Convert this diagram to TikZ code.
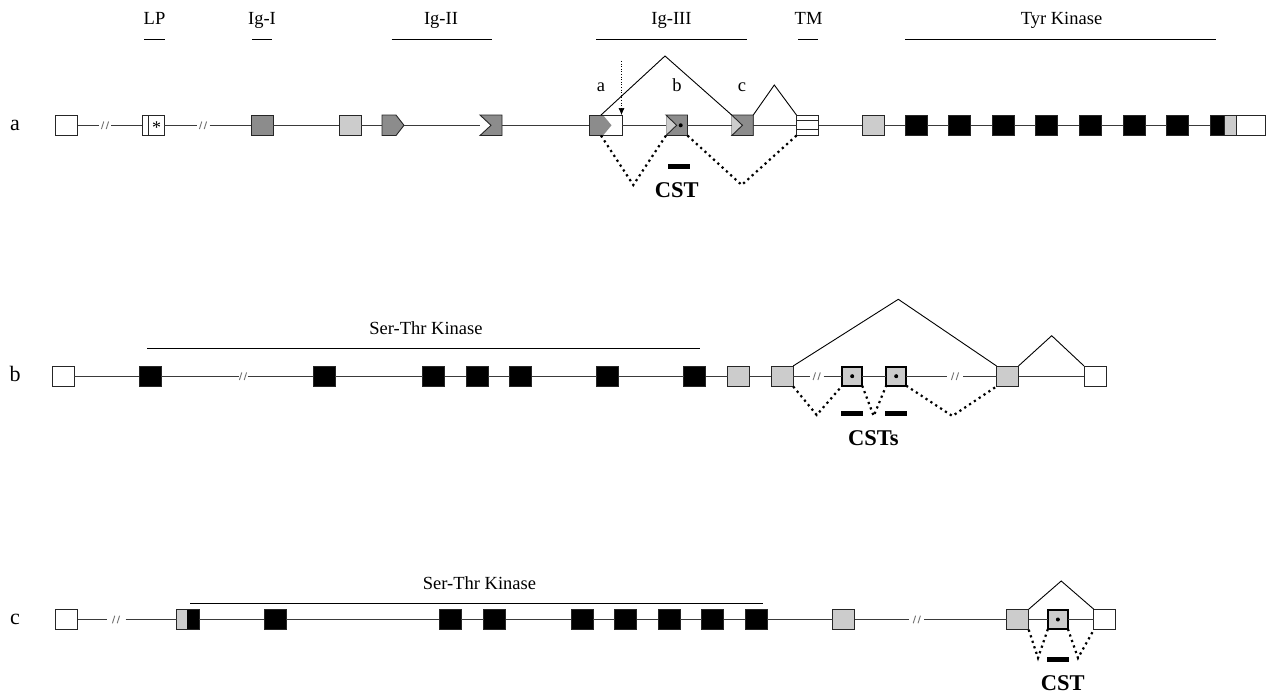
\documentclass[tikz,border=0pt]{standalone}
\usepackage{fontspec}
\setmainfont{Liberation Serif}
\usetikzlibrary{arrows.meta,calc}
\definecolor{dg}{HTML}{8C8C8C}
\definecolor{lg}{HTML}{CCCCCC}
\definecolor{ln}{HTML}{3A3A3A}
\newcommand{\brkmark}[4]{%
  \coordinate (#3l) at ({#1-#4},#2);
  \coordinate (#3r) at ({#1+#4},#2);
  \draw[brkst] ({#1-3.6},{#2+3.8}) -- ({#1-1.2},{#2-3.8}) ({#1+1.2},{#2+3.8}) -- ({#1+3.6},{#2-3.8});
}
\begin{document}
\begin{tikzpicture}[x=1pt,y=-1pt,
 exon/.style={draw=black!85, line width=0.9pt, minimum width=22pt, minimum height=20.5pt, inner sep=0pt, outer sep=0pt},
 wex/.style={exon, fill=white},
 lex/.style={exon, fill=lg},
 dex/.style={exon, fill=dg},
 bex/.style={exon, fill=black},
 cex/.style={exon, fill=lg, draw=black, line width=2.4pt, minimum width=20pt, minimum height=19pt},
 lbl/.style={font=\fontsize{18.5}{20}\selectfont, inner sep=0pt, anchor=base},
 rlbl/.style={font=\fontsize{22}{24}\selectfont, inner sep=0pt, anchor=base},
 cstlbl/.style={font=\fontsize{22.5}{24}\selectfont\bfseries, inner sep=0pt},
 dombar/.style={draw=black, line width=1pt},
 cstbar/.style={fill=black, inner sep=0pt, minimum width=21.7pt, minimum height=5pt},
 intron/.style={draw=ln, line width=1.1pt},
 splice/.style={draw=black, line width=0.9pt},
 alt/.style={draw=black, line width=2.2pt, dash pattern=on 2.2pt off 3.6pt},
 arr/.style={draw=black, line width=0.6pt, dash pattern=on 1pt off 1.6pt, -{Latex[length=7pt,width=6pt]}},
 brkst/.style={draw=black!55, line width=0.9pt},
 shp/.style={fill=dg, draw=black!85, line width=0.9pt}
]
\fill[white] (0,0) rectangle (1267,698);
\useasboundingbox (0,0) rectangle (1267,698);

% ---------------- domain labels (row a)
\node[lbl] (tLP) at (154.5,25) {LP};
\node[lbl] (tI1) at (262,25) {Ig-I};
\node[lbl] (tI2) at (441,25) {Ig-II};
\node[lbl] (tI3) at (671.5,25) {Ig-III};
\node[lbl] (tTM) at (808.6,25) {TM};
\node[lbl] (tTK) at (1061.5,25) {Tyr Kinase};
\draw[dombar] (144.3,39.3) -- (165,39.3);
\draw[dombar] (252.3,39.3) -- (272.3,39.3);
\draw[dombar] (391.7,39.3) -- (492.3,39.3);
\draw[dombar] (596,39.3) -- (747,39.3);
\draw[dombar] (798,39.3) -- (818.3,39.3);
\draw[dombar] (905,39.3) -- (1216,39.3);

% ---------------- row a
\node[rlbl] (ra) at (15,130.3) {a};
\node[wex] (a1) at (66.5,125.3) {};
\brkmark{105}{125.3}{ba1}{6}
\node[wex] (aLP) at (153.3,125.3) {};
\draw[black!85, line width=0.9pt] ([xshift=5.7pt]aLP.north west) -- ([xshift=5.7pt]aLP.south west);
\node[font=\fontsize{18}{18}\selectfont, inner sep=0pt, anchor=base] (ast) at (156.5,133.5) {*};
\brkmark{203}{125.3}{ba2}{6.5}
\node[dex] (aI1) at (262.3,125.3) {};
\node[lex] (aL1) at (350,125.3) {};
\node[exon, draw=none] (aP) at (393,125.3) {};
\draw[shp] (aP.north west) -- ([xshift=-8pt]aP.north east) -- (aP.east) -- ([xshift=-8pt]aP.south east) -- (aP.south west) -- cycle;
\node[exon, draw=none] (aN) at (491,125.3) {};
\draw[shp] (aN.north west) -- (aN.north east) -- (aN.south east) -- (aN.south west) -- ([xshift=11pt]aN.west) -- cycle;
\node[exon, draw=none, fill=white, minimum width=33pt] (aA) at (605.5,125.3) {};
\fill[dg] (aA.north west) -- ([xshift=14pt]aA.north west) -- ([xshift=22.5pt]aA.west) -- ([xshift=14pt]aA.south west) -- (aA.south west) -- cycle;
\draw[black!85, line width=0.9pt] (aA.north west) rectangle (aA.south east);
\node[exon, fill=lg, draw=black!35, line width=0.6pt, minimum width=21.5pt] (aB) at (676.7,125.3) {};
\draw[shp] (aB.north west) -- (aB.north east) -- (aB.south east) -- (aB.south west) -- ([xshift=10.7pt]aB.west) -- cycle;
\fill[black] ([xshift=4pt]aB.center) circle (2pt);
\node[exon, fill=lg, draw=black!35, line width=0.6pt, minimum width=21.5pt] (aC) at (742.5,125.3) {};
\draw[shp] (aC.north west) -- (aC.north east) -- (aC.south east) -- (aC.south west) -- ([xshift=10.7pt]aC.west) -- cycle;
\node[wex] (aTM) at (807.5,125.3) {};
\draw[black!85, line width=0.9pt] ($(aTM.north west)!0.26!(aTM.south west)$) -- ($(aTM.north east)!0.26!(aTM.south east)$);
\draw[black!85, line width=0.9pt] ($(aTM.north west)!0.72!(aTM.south west)$) -- ($(aTM.north east)!0.72!(aTM.south east)$);
\node[lex] (aL2) at (873,125.3) {};
\foreach \i/\x in {1/916,2/959.6,3/1003.2,4/1046.8,5/1090.4,6/1134,7/1177.6}
  \node[bex] (aK\i) at (\x,125.3) {};
\node[bex, minimum width=14pt] (aE1) at (1217,125.3) {};
\node[lex, minimum width=12pt] (aE2) at (1230,125.3) {};
\node[wex, minimum width=29pt] (aE3) at (1250.5,125.3) {};

\draw[intron] (a1.east) -- (ba1l) (ba1r) -- (aLP.west);
\draw[intron] (aLP.east) -- (ba2l) (ba2r) -- (aI1.west);
\foreach \p/\q in {aI1/aL1,aL1/aP,aP/aN,aN/aA,aA/aB,aB/aC,aC/aTM,aTM/aL2,aL2/aK1,aK1/aK2,aK2/aK3,aK3/aK4,aK4/aK5,aK5/aK6,aK6/aK7,aK7/aE1}
  \draw[intron] (\p.east) -- (\q.west);

\node[lbl] (la) at (601,91.7) {a};
\node[lbl] (lb) at (677,91.7) {b};
\node[lbl] (lc) at (742,91.7) {c};
\coordinate (arT) at (621.5,61);
\draw[arr] (arT) -- (arT |- aA.north);

\coordinate (apA1) at (665,56);
\draw[splice] ([xshift=12pt]aA.north west) -- (apA1) -- (aC.north west);
\coordinate (apA2) at (774.3,85);
\draw[splice] (aC.north east) -- (apA2) -- (aTM.north west);
\coordinate (vA1) at (633.3,185);
\draw[alt] ([xshift=12pt]aA.south west) -- (vA1) -- (aB.south west);
\coordinate (vA2) at (741.7,185);
\draw[alt] (aB.south east) -- (vA2) -- (aTM.south west);
\node[cstbar] (cbA) at (679.2,166.7) {};
\node[cstlbl] (cstA) at (676.7,189.7) {CST};

% ---------------- row b
\node[rlbl] (rb) at (15,381.2) {b};
\node[lbl] (stB) at (426,334) {Ser-Thr Kinase};
\draw[dombar] (147,348) -- (700,348);
\node[wex] (b1) at (63.2,376.2) {};
\node[bex] (bK1) at (150.2,376.2) {};
\brkmark{243}{376.2}{bb1}{4.5}
\foreach \i/\x in {2/324.2,3/433.8,4/477.1,5/520.8,6/607.6,7/694.8}
  \node[bex] (bK\i) at (\x,376.2) {};
\node[lex] (bL1) at (738.7,376.2) {};
\node[lex] (bL2) at (782.2,376.2) {};
\brkmark{816.7}{376.2}{bb2}{7}
\node[cex] (bC1) at (852.2,376.2) {};
\node[cex] (bC2) at (896.2,376.2) {};
\fill[black] (bC1.center) circle (2pt);
\fill[black] (bC2.center) circle (2pt);
\brkmark{955}{376.2}{bb3}{8.3}
\node[lex] (bL3) at (1007.5,376.2) {};
\node[wex] (bW2) at (1095,376.2) {};

\draw[intron] (b1.east) -- (bK1.west);
\draw[intron] (bK1.east) -- (bb1l) (bb1r) -- (bK2.west);
\foreach \p/\q in {bK2/bK3,bK3/bK4,bK4/bK5,bK5/bK6,bK6/bK7,bK7/bL1,bL1/bL2,bC1/bC2,bL3/bW2}
  \draw[intron] (\p.east) -- (\q.west);
\draw[intron] (bL2.east) -- (bb2l) (bb2r) -- (bC1.west);
\draw[intron] (bC2.east) -- (bb3l) (bb3r) -- (bL3.west);

\coordinate (apB1) at (898.3,299.3);
\draw[splice] (bL2.north east) -- (apB1) -- (bL3.north west);
\coordinate (apB2) at (1051.7,335.7);
\draw[splice] (bL3.north east) -- (apB2) -- (bW2.north west);
\coordinate (vB1) at (816.7,415);
\draw[alt] (bL2.south east) -- (vB1) -- (bC1.south west);
\coordinate (vB2) at (873.7,416);
\draw[alt] (bC1.south east) -- (vB2) -- (bC2.south west);
\coordinate (vB3) at (952.3,416);
\draw[alt] (bC2.south east) -- (vB3) -- (bL3.south west);
\node[cstbar] (cbB1) at (852,413.8) {};
\node[cstbar] (cbB2) at (895.8,413.8) {};
\node[cstlbl] (cstB) at (873.3,438) {CSTs};

% ---------------- row c
\node[rlbl] (rc) at (15,624.5) {c};
\node[lbl] (stC) at (479.5,589) {Ser-Thr Kinase};
\draw[dombar] (190,603) -- (763,603);
\node[wex] (c1) at (66.5,619.5) {};
\brkmark{116}{619.5}{bc1}{9.5}
\node[lex, minimum width=22.3pt] (cM) at (187.8,619.5) {};
\fill[black] ([xshift=10pt]cM.north west) rectangle (cM.south east);
\draw[black!85, line width=0.9pt] (cM.north west) rectangle (cM.south east);
\foreach \i/\x in {1/275.3,2/450.3,3/494.7,4/582.3,5/625.5,6/669.2,7/712.9,8/756}
  \node[bex] (cK\i) at (\x,619.5) {};
\node[lex] (cL1) at (843.6,619.5) {};
\brkmark{916.8}{619.5}{bc2}{7.5}
\node[lex] (cL2) at (1017.7,619.5) {};
\node[cex] (cC) at (1057.9,619.5) {};
\fill[black] (cC.center) circle (2pt);
\node[wex] (cW2) at (1104.8,619.5) {};

\draw[intron] (c1.east) -- (bc1l) (bc1r) -- (cM.west);
\foreach \p/\q in {cM/cK1,cK1/cK2,cK2/cK3,cK3/cK4,cK4/cK5,cK5/cK6,cK6/cK7,cK7/cK8,cK8/cL1,cL2/cC,cC/cW2}
  \draw[intron] (\p.east) -- (\q.west);
\draw[intron] (cL1.east) -- (bc2l) (bc2r) -- (cL2.west);

\coordinate (apC) at (1061.2,581);
\draw[splice] (cL2.north east) -- (apC) -- (cW2.north west);
\coordinate (vC1) at (1038,658);
\draw[alt] (cL2.south east) -- (vC1) -- (cC.south west);
\coordinate (vC2) at (1078,658);
\draw[alt] (cC.south east) -- (vC2) -- (cW2.south west);
\node[cstbar] (cbC) at (1058.2,659.5) {};
\node[cstlbl] (cstC) at (1062.7,683.3) {CST};
\end{tikzpicture}
\end{document}
